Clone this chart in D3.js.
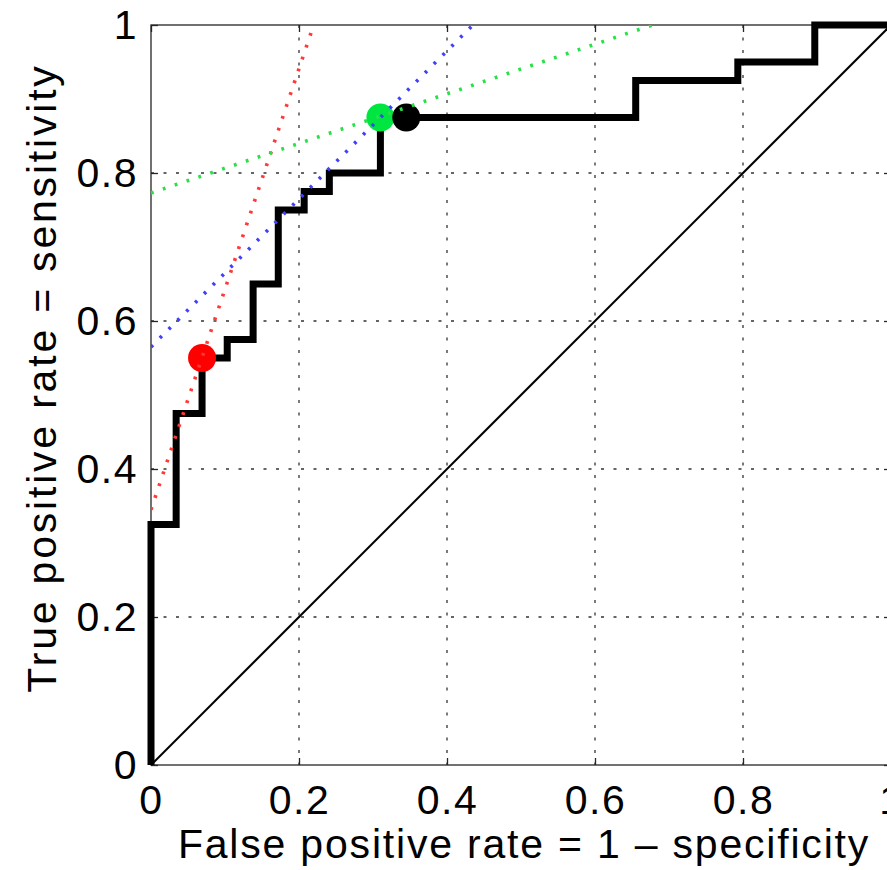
<!DOCTYPE html>
<html>
<head>
<meta charset="utf-8">
<script src="https://cdn.jsdelivr.net/npm/d3@7"></script>
<style>
  html, body { margin: 0; padding: 0; background: #fff; overflow: hidden; }
  svg { display: block; }
  text { font-family: "Liberation Sans", Arial, Helvetica, sans-serif; }
</style>
</head>
<body>
<svg id="roc" width="887" height="870"></svg>
<script>
// ROC curve corner points (vertical step first, then horizontal)
const rocFpr = [0, 0.034, 0.069, 0.103, 0.138, 0.172, 0.207, 0.241, 0.31, 0.655, 0.793, 0.897, 1];
const rocTpr = [0, 0.325, 0.475, 0.55, 0.575, 0.65, 0.75, 0.775, 0.8, 0.875, 0.925, 0.95, 1];

// marked operating points
const pointNames = ["red", "green", "black"];
const pointFpr = [0.069, 0.31, 0.345];
const pointTpr = [0.55, 0.875, 0.875];
const pointColors = ["#ff0000", "#00e640", "#000000"];

// dotted iso-cost lines: tpr = intercept + slope * fpr
const lineNames = ["red", "blue", "green"];
const lineIntercepts = [0.345, 0.565, 0.773];
const lineSlopes = [2.98, 1.0, 0.335];
const lineColors = ["#ff3838", "#4040ff", "#28e048"];

const tickValues = [0, 0.2, 0.4, 0.6, 0.8, 1];

const margin = {top: 25, right: -4, bottom: 105, left: 151};
const width = 887;
const height = 870;

const x = d3.scaleLinear()
    .domain([0, 1])
    .range([margin.left, width - margin.right]);

const y = d3.scaleLinear()
    .domain([0, 1])
    .range([height - margin.bottom, margin.top]);

const fmt = d3.format("~g");

const svg = d3.select("#roc");

svg.append("defs").append("clipPath")
    .attr("id", "plotClip")
    .append("rect")
    .attr("x", x(0))
    .attr("y", y(1))
    .attr("width", x(1) - x(0))
    .attr("height", y(0) - y(1));

// grid
const grid = svg.append("g")
    .attr("stroke", "#333")
    .attr("stroke-width", 1.3)
    .attr("stroke-dasharray", "3,9.5");

grid.selectAll(".vgrid")
    .data(tickValues.slice(1, -1))
    .join("line")
    .attr("class", "vgrid")
    .attr("x1", d => x(d))
    .attr("x2", d => x(d))
    .attr("y1", y(1))
    .attr("y2", y(0));

grid.selectAll(".hgrid")
    .data(tickValues.slice(1, -1))
    .join("line")
    .attr("class", "hgrid")
    .attr("x1", x(0))
    .attr("x2", x(1))
    .attr("y1", d => y(d))
    .attr("y2", d => y(d));

// axes with inward ticks
const xAxis = g => g
    .attr("transform", `translate(0,${y(0)})`)
    .call(d3.axisBottom(x).tickValues(tickValues).tickFormat(fmt).tickSize(-7).tickPadding(20))
    .call(g => g.select(".domain").remove());

const xAxisTop = g => g
    .attr("transform", `translate(0,${y(1)})`)
    .call(d3.axisTop(x).tickValues(tickValues).tickFormat("").tickSize(-7))
    .call(g => g.select(".domain").remove());

const yAxis = g => g
    .attr("transform", `translate(${x(0)},0)`)
    .call(d3.axisLeft(y).tickValues(tickValues).tickFormat(fmt).tickSize(-7).tickPadding(13))
    .call(g => g.select(".domain").remove());

const yAxisRight = g => g
    .attr("transform", `translate(${x(1)},0)`)
    .call(d3.axisRight(y).tickValues(tickValues).tickFormat("").tickSize(-7))
    .call(g => g.select(".domain").remove());

[xAxis, xAxisTop, yAxis, yAxisRight].forEach(a => {
    svg.append("g")
        .call(a)
        .call(g => g.selectAll(".tick line").attr("stroke", "#262626").attr("stroke-width", 1.3))
        .call(g => g.selectAll(".tick text")
            .attr("font-size", 41)
            .attr("letter-spacing", 1.5)
            .attr("fill", "#000"));
});

// box
svg.append("rect")
    .attr("x", x(0))
    .attr("y", y(1))
    .attr("width", x(1) - x(0))
    .attr("height", y(0) - y(1))
    .attr("fill", "none")
    .attr("stroke", "#262626")
    .attr("stroke-width", 1.3);

// chance diagonal
svg.append("line")
    .attr("x1", x(0))
    .attr("y1", y(0))
    .attr("x2", x(1))
    .attr("y2", y(1))
    .attr("stroke", "#000")
    .attr("stroke-width", 2);

// ROC step curve
const roc = rocFpr.map((f, i) => [f, rocTpr[i]]);

svg.append("path")
    .datum(roc)
    .attr("fill", "none")
    .attr("stroke", "#000")
    .attr("stroke-width", 7)
    .attr("stroke-linejoin", "miter")
    .attr("d", d3.line()
        .x(d => x(d[0]))
        .y(d => y(d[1]))
        .curve(d3.curveStepBefore));

// operating points
svg.append("g")
    .selectAll("circle")
    .data(pointNames.map((n, i) => ({n, f: pointFpr[i], t: pointTpr[i], c: pointColors[i]})))
    .join("circle")
    .attr("cx", d => x(d.f))
    .attr("cy", d => y(d.t))
    .attr("r", 14)
    .attr("fill", d => d.c);

// dotted tangent lines
svg.append("g")
    .attr("clip-path", "url(#plotClip)")
    .selectAll("line")
    .data(lineNames.map((n, i) => ({n, b: lineIntercepts[i], m: lineSlopes[i], c: lineColors[i]})))
    .join("line")
    .attr("x1", x(0))
    .attr("y1", d => y(d.b))
    .attr("x2", d => x((1 - d.b) / d.m))
    .attr("y2", y(1))
    .attr("stroke", d => d.c)
    .attr("stroke-width", 3.6)
    .attr("stroke-dasharray", "2.8,9.7");

// axis titles
svg.append("text")
    .attr("x", 524)
    .attr("y", 858)
    .attr("text-anchor", "middle")
    .attr("font-size", 41)
    .attr("letter-spacing", 1.8)
    .text("False positive rate = 1 \u2013 specificity");

svg.append("text")
    .attr("transform", `translate(56,${378}) rotate(-90)`)
    .attr("text-anchor", "middle")
    .attr("font-size", 41)
    .attr("letter-spacing", 2.8)
    .text("True positive rate = sensitivity");
</script>
</body>
</html>
